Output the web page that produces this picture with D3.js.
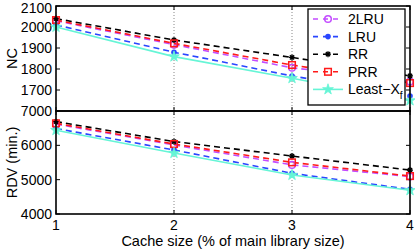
<!DOCTYPE html>
<html><head><meta charset="utf-8">
<script src="https://cdn.jsdelivr.net/npm/d3@7"></script>
<style>body{margin:0;background:#fff}svg{display:block}text{font-family:"Liberation Sans",Arial,sans-serif}</style>
</head><body><svg id="c" width="415" height="249"></svg>
<script>
const cacheSizes = [1, 2, 3, 4];
const seriesNames = ["2LRU", "LRU", "RR", "PRR", "Least-Xf"];
const ncValues = {
  "2LRU":     [2030, 1916, 1806, 1740],
  "LRU":      [2010, 1880, 1767, 1671],
  "RR":       [2040, 1938, 1855, 1767],
  "PRR":      [2033, 1922, 1819, 1733],
  "Least-Xf": [2000, 1859, 1756, 1650]
};
const rdvValues = {
  "2LRU":     [6620, 6010, 5430, 5090],
  "LRU":      [6490, 5865, 5185, 4718],
  "RR":       [6690, 6110, 5688, 5280],
  "PRR":      [6641, 6038, 5504, 5105],
  "Least-Xf": [6440, 5775, 5135, 4690]
};
const ncTicks = [1700, 1800, 1900, 2000, 2100];
const rdvTicks = [4000, 5000, 6000, 7000];
const xTicks = [1, 2, 3, 4];

const styles = {
  "2LRU":     {color:"#c34cff", dash:"6,4", marker:"circle"},
  "LRU":      {color:"#2a46ff", dash:"6,4", marker:"dot"},
  "RR":       {color:"#000000", dash:"6,4", marker:"star"},
  "PRR":      {color:"#ff1a1a", dash:"6,4", marker:"square"},
  "Least-Xf": {color:"#66f5d6", dash:null, marker:"hex"}
};

const svg = d3.select("#c");
const L = 56, R = 410;
const x = d3.scaleLinear().domain([1,4]).range([L,R]);
const panels = [
  {vals: ncValues, y: d3.scaleLinear().domain([1600,2100]).range([111,6]), ticks: ncTicks, label:"NC", top:6, bottom:111},
  {vals: rdvValues, y: d3.scaleLinear().domain([4000,7000]).range([214,111]), ticks: rdvTicks, label:"RDV (min.)", top:111, bottom:214}
];

function marker(g, type, cx, cy, color) {
  if (type === "circle") g.append("circle").attr("cx",cx).attr("cy",cy).attr("r",3.3).attr("fill","none").attr("stroke",color).attr("stroke-width",1.5);
  else if (type === "dot") g.append("circle").attr("cx",cx).attr("cy",cy).attr("r",2.8).attr("fill",color);
  else if (type === "square") g.append("rect").attr("x",cx-3.3).attr("y",cy-3.3).attr("width",6.6).attr("height",6.6).attr("fill","none").attr("stroke",color).attr("stroke-width",1.5);
  else if (type === "star") {
    const p = d3.path(); const r=3;
    for (let a=0;a<4;a++){const t=a*Math.PI/4; p.moveTo(cx-r*Math.cos(t),cy-r*Math.sin(t)); p.lineTo(cx+r*Math.cos(t),cy+r*Math.sin(t));}
    g.append("path").attr("d",p.toString()).attr("stroke",color).attr("stroke-width",1.3);
  } else if (type === "hex") {
    g.append("path").attr("d", d3.symbol().type(d3.symbolStar).size(36)()).attr("transform",`translate(${cx},${cy})`).attr("fill",color).attr("stroke",color).attr("stroke-width",0.8);
  }
}

[2,3].forEach(v => {
  svg.append("line").attr("x1",x(v)).attr("x2",x(v)).attr("y1",6).attr("y2",214)
    .attr("stroke","#888").attr("stroke-width",1).attr("stroke-dasharray","1,2");
});

panels.forEach((p, pi) => {
  const g = svg.append("g");
  p.ticks.forEach(t => {
    const yy = p.y(t);
    g.append("line").attr("x1",L).attr("x2",L+4).attr("y1",yy).attr("y2",yy).attr("stroke","#000");
    g.append("line").attr("x1",R).attr("x2",R-4).attr("y1",yy).attr("y2",yy).attr("stroke","#000");
    g.append("text").attr("x",L-4).attr("y",Math.max(yy+5, 13)).attr("text-anchor","end").attr("font-size",14).text(t);
  });
  xTicks.forEach(t => {
    g.append("line").attr("x1",x(t)).attr("x2",x(t)).attr("y1",p.bottom).attr("y2",p.bottom-4).attr("stroke","#000");
    g.append("line").attr("x1",x(t)).attr("x2",x(t)).attr("y1",p.top).attr("y2",p.top+4).attr("stroke","#000");
  });
  const line = d3.line().x((d,i)=>x(cacheSizes[i])).y(d=>p.y(d));
  seriesNames.forEach(n => {
    const s = styles[n];
    g.append("path").attr("d", line(p.vals[n])).attr("fill","none").attr("stroke",s.color)
      .attr("stroke-width",1.6).attr("stroke-dasharray", s.dash);
  });
  seriesNames.forEach(n => {
    const s = styles[n];
    p.vals[n].forEach((v,i)=>marker(g, s.marker, x(cacheSizes[i]), p.y(v), s.color));
  });
  g.append("rect").attr("x",L).attr("y",p.top).attr("width",R-L).attr("height",p.bottom-p.top)
    .attr("fill","none").attr("stroke","#000").attr("stroke-width",1.6);
  const cy = (p.top+p.bottom)/2;
  g.append("text").attr("transform",`translate(17,${cy}) rotate(-90)`).attr("text-anchor","middle")
    .attr("font-size",14.5).text(p.label);
});

xTicks.forEach(t => {
  svg.append("text").attr("x",x(t)).attr("y",229.5).attr("text-anchor","middle").attr("font-size",14).text(t);
});
svg.append("text").attr("x",233).attr("y",245.5).attr("text-anchor","middle").attr("font-size",14.5)
  .text("Cache size (% of main library size)");

const lg = svg.append("g");
lg.append("rect").attr("x",308).attr("y",9).attr("width",97).attr("height",96).attr("fill","#fff").attr("stroke","#000").attr("stroke-width",1.3);
seriesNames.forEach((n,i) => {
  const s = styles[n]; const yy = 19 + i*17.6;
  lg.append("line").attr("x1",313).attr("x2",343).attr("y1",yy).attr("y2",yy).attr("stroke",s.color)
    .attr("stroke-width",1.6).attr("stroke-dasharray", s.dash ? "5,5" : null);
  marker(lg, s.marker, 328, yy, s.color);
  const t = lg.append("text").attr("x",348).attr("y",yy+5).attr("font-size",14);
  if (n === "Least-Xf") {
    t.text("Least\u2212X");
    t.append("tspan").attr("font-size",10).attr("dy",5).text("f");
  } else t.text(n);
});
</script></body></html>
